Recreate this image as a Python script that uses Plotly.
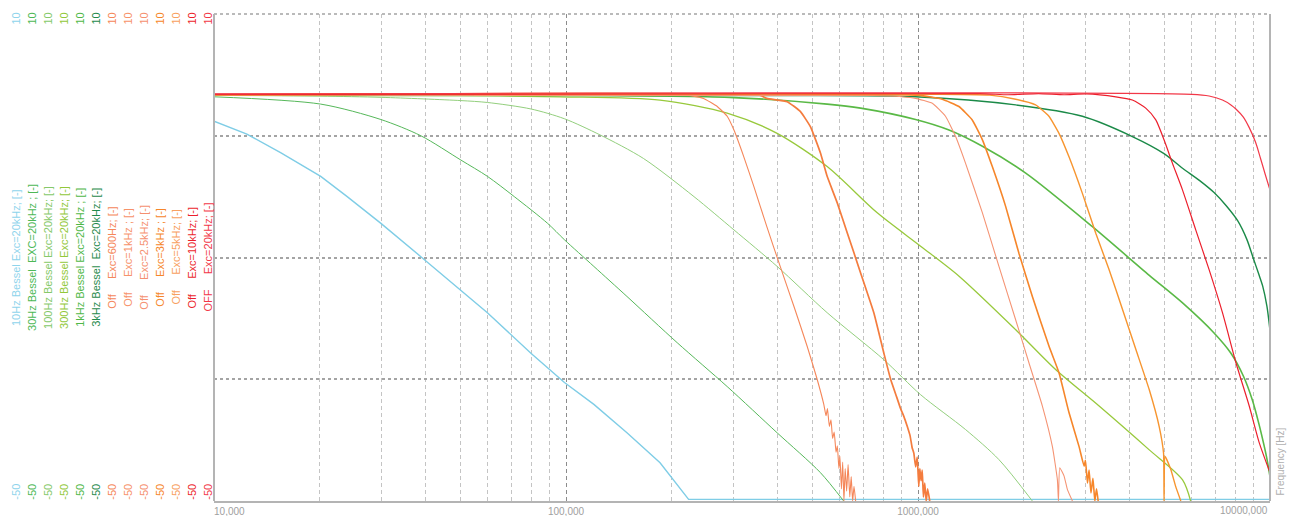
import plotly.graph_objects as go

# ---------------- data ----------------
f_10hz_bessel = [10, 12.4, 15.5, 20.1, 23.9, 29.8, 38.7, 50.3, 59.8, 79.5, 99, 120, 149, 185, 223, 10000]
db_10hz_bessel = [-3.2, -4.8, -7.1, -10.0, -12.5, -15.8, -19.9, -24.0, -26.8, -31.8, -35.4, -38.1, -41.6, -45.3, -49.8, -49.8]

f_30hz_bessel = [10, 20.1, 29.8, 38.7, 50.3, 59.8, 71.3, 88.7, 98.9, 120, 149, 207, 287, 398, 528, 615]
db_30hz_bessel = [-0.2, -1.1, -3.0, -5.0, -8.0, -10.0, -12.5, -15.8, -17.8, -21.1, -24.8, -30.5, -35.9, -41.6, -46.5, -50]

f_100hz_bessel = [10, 20, 30, 50.3, 59.8, 79.5, 98.9, 125, 166, 231, 300, 398, 552, 800, 1017, 1365, 1698, 2113]
db_100hz_bessel = [-0.03, -0.12, -0.27, -0.67, -0.9, -1.7, -2.9, -4.9, -7.8, -12.5, -16.6, -21.1, -26.8, -32.6, -36.9, -41.2, -44.9, -50]

f_300hz_bessel = [10, 50, 96.4, 185, 287, 398, 552, 766, 1017, 1308, 1895, 2460, 3270, 4540, 5644, 5950]
db_300hz_bessel = [0, -0.05, -0.2, -0.6, -2.2, -4.7, -8.8, -14.5, -18.6, -22.3, -28.9, -33.8, -38.3, -43.7, -47.4, -50]

f_1khz_bessel = [10, 100, 300, 552, 687, 984, 1225, 1524, 2023, 3130, 4540, 5644, 6935, 7745, 8400, 8900, 9300, 9600, 9800, 10000]
db_1khz_bessel = [0, -0.03, -0.3, -1.1, -1.6, -3.0, -4.3, -6.3, -9.6, -16.2, -22.2, -25.6, -29.3, -31.8, -34.6, -37.5, -40.5, -43.0, -44.8, -47.0]

f_3khz_bessel = [10, 398, 984, 1895, 2931, 4064, 5000, 5644, 6300, 6935, 7500, 8100, 8600, 8950, 9300, 9530, 9800, 10000]
db_3khz_bessel = [0, -0.05, -0.2, -1.2, -2.6, -5.1, -7.2, -9.0, -10.5, -12.0, -13.6, -15.5, -17.8, -20.0, -22.1, -23.5, -26.0, -29.0]

f_off_600 = [10, 221, 246, 269, 287, 300, 320, 342, 372, 406, 444, 484, 517, 540, 548, 553, 560, 566,
             572, 578, 585, 590, 596, 600, 606, 611, 616, 621, 627, 633, 640, 646, 652, 658, 665]
db_off_600 = [0.1, 0.0, -0.4, -1.4, -2.6, -4.3, -7.6, -11.3, -16.2, -21.1, -26.0, -30.9, -35.0, -38.1, -39.5, -38.6, -40.8, -40.0,
              -42.3, -41.5, -44.0, -43.2, -46.0, -44.5, -48.5, -45.2, -50, -46.0, -48.8, -45.5, -49.5, -47.0, -50, -48.2, -50]

f_off_1k = [10, 355, 372, 425, 463, 495, 528, 552, 590, 630, 687, 749, 800, 836, 870, 892, 912, 932,
            950, 962, 973, 985, 995, 1005, 1012, 1020, 1028, 1036, 1045, 1055, 1065, 1080]
db_off_1k = [0.05, 0.0, -0.4, -0.8, -2.0, -3.9, -7.1, -10.0, -13.3, -17.0, -21.9, -26.8, -31.8, -35.0, -37.2, -38.6, -39.6, -40.8,
             -42.0, -43.4, -44.1, -45.8, -44.6, -48.2, -46.0, -47.5, -46.2, -49.5, -47.8, -50, -48.5, -50]

f_off_2k5 = [10, 750, 900, 984, 1098, 1197, 1279, 1365, 1524, 1698, 1895, 2067, 2256, 2409, 2489, 2506, 2527, 2599, 2658, 2746]
db_off_2k5 = [0.0, -0.05, -0.2, -0.4, -1.0, -2.6, -5.1, -8.4, -14.5, -21.1, -27.7, -33.0, -38.3, -43.3, -47.4, -50, -45.9, -46.9, -48.6, -50]

f_off_3k = [10, 1000, 1172, 1307, 1426, 1524, 1626, 1774, 1936, 2113, 2355, 2515, 2685, 2868, 2963,
            2990, 3030, 3062, 3100, 3140, 3180, 3215, 3250]
db_off_3k = [0.05, 0.0, -0.5, -1.4, -3.05, -5.5, -8.8, -13.7, -19.5, -24.8, -30.9, -34.2, -39.1, -43.3, -45.7,
             -45.0, -47.8, -46.2, -49.0, -47.2, -50, -48.5, -50]

f_off_5k = [10, 1600, 1895, 2158, 2355, 2515, 2685, 2931, 3199, 3491, 3811, 4164, 4540, 4842, 4984, 5000, 5035, 5224, 5395, 5580]
db_off_5k = [0.05, 0.0, -0.5, -1.2, -2.6, -4.7, -7.6, -12.1, -17.0, -21.5, -26.4, -31.4, -36.3, -40.8, -44.1, -50, -44.5, -46.1, -48.2, -50]

f_off_10k = [10, 1500, 1800, 2200, 2600, 3000, 3648, 4064, 4436, 4738, 5000, 5284, 5644, 6152, 6714, 7328, 8007, 8730, 9318, 10000]
db_off_10k = [0.1, 0.2, 0.05, 0.2, 0.05, 0.15, -0.2, -0.6, -1.6, -3.05, -5.5, -8.4, -11.7, -16.6, -21.5, -26.8, -33.0, -38.3, -42.8, -46.5]

f_off_20k = [10, 6000, 6714, 7328, 7745, 8000, 8400, 8730, 9100, 9400, 9700, 10000]
db_off_20k = [0.15, 0.1, -0.1, -0.6, -1.2, -1.7, -2.7, -4.0, -5.8, -7.8, -9.8, -11.7]

axis_titles = [
    "10Hz Bessel Exc=20kHz; [-]",
    "30Hz Bessel  EXC=20kHz ; [-]",
    "100Hz Bessel Exc=20kHz; [-]",
    "300Hz Bessel Exc=20kHz; [-]",
    "1kHz Bessel Exc=20kHz ; [-]",
    "3kHz Bessel  Exc=20kHz; [-]",
    "Off     Exc=600Hz; [-]",
    "Off     Exc=1kHz ; [-]",
    "Off     Exc=2.5kHz; [-]",
    "Off     Exc=3kHz ; [-]",
    "Off     Exc=5kHz; [-]",
    "Off     Exc=10kHz; [-]",
    "OFF     Exc=20kHz; [-]",
]

x_tick_vals = [10, 100, 1000, 10000]
x_tick_text = ["10,000", "100,000", "1000,000", "10000,000"]
y_range = [-50, 10]
y_grid_vals = [-5, -20, -35]

# ---------------- styling ----------------
# (x, y, line colour, label colour, width, smoothing; 0 = straight segments)
series = [
    (f_10hz_bessel, db_10hz_bessel, "#7fcde6", "#8fd4ec", 1.4, 0),
    (f_30hz_bessel, db_30hz_bessel, "#56b85a", "#4db856", 1.0, 0.8),
    (f_100hz_bessel, db_100hz_bessel, "#93cf7d", "#86c96a", 1.0, 0.8),
    (f_300hz_bessel, db_300hz_bessel, "#98c93c", "#92c83a", 1.3, 0.8),
    (f_1khz_bessel, db_1khz_bessel, "#5ab946", "#4fb848", 1.6, 0.8),
    (f_3khz_bessel, db_3khz_bessel, "#1b8a48", "#1f8a4c", 1.4, 0.8),
    (f_off_600, db_off_600, "#f5875a", "#f5875a", 1.1, 0.4),
    (f_off_1k, db_off_1k, "#f47c3e", "#f7926a", 1.7, 0.4),
    (f_off_2k5, db_off_2k5, "#f59474", "#f59070", 1.1, 0.4),
    (f_off_3k, db_off_3k, "#f6862a", "#f6862a", 1.6, 0.4),
    (f_off_5k, db_off_5k, "#f7952f", "#f8a060", 1.4, 0.4),
    (f_off_10k, db_off_10k, "#ec1f2c", "#ec1f2c", 1.2, 0.6),
    (f_off_20k, db_off_20k, "#f23848", "#f23848", 1.2, 0.8),
]

FONT = "Liberation Sans, Arial, sans-serif"
W, H = 1291, 516
ML, MR, MT, MB = 0, 21, 14, 15
PW = W - ML - MR
PLOT_LEFT = 214
X0 = PLOT_LEFT / PW
BORDER = "#b4b4b4"
HGRID = "#a4a4a4"
XTICK_FONT = dict(size=10, color="#a0a0a0", family=FONT)

FS = "\u2007"   # figure space (digit width)
PS = "\u2008"   # punctuation space


def pad_left(s):
    n = sum(1 for c in s if c.isdigit())
    return FS * n + PS * (len(s) - n) + s


def pad_right(s):
    n = sum(1 for c in s if c.isdigit())
    return s + FS * n + PS * (len(s) - n)


# first label left-aligned at the axis start, last one right-aligned at the axis end
xt = list(x_tick_text)
xt[0] = pad_left(xt[0])
last_label = xt[-1]
xt[-1] = ""

minor_vals = [k * 10 ** d for d in range(1, 4) for k in range(2, 10)]

fig = go.Figure()
layout = dict(
    width=W, height=H,
    margin=dict(l=ML, r=MR, t=MT, b=MB, pad=0, autoexpand=False),
    paper_bgcolor="white", plot_bgcolor="rgba(0,0,0,0)",
    showlegend=False,
    font=dict(family=FONT, size=11, color="#999999"),
    xaxis=dict(
        type="log", range=[1, 4], domain=[X0, 1],
        tickvals=x_tick_vals, ticktext=xt, tickangle=0,
        tickfont=XTICK_FONT,
        ticks="", showgrid=True, gridcolor="#8c8c8c", griddash="4px,3px", gridwidth=1,
        showline=True, linecolor=BORDER, linewidth=2, zeroline=False,
        minor=dict(tickvals=minor_vals, showgrid=True, gridcolor="#c4c4c4",
                   griddash="4px,3px", gridwidth=1, ticks=""),
    ),
)

annotations = []
for i, (fx, dy, lc, tc, lw, sm) in enumerate(series):
    cx = 15.5 + 15.96 * i
    name = "yaxis" if i == 0 else "yaxis%d" % (i + 1)
    top_lbl = pad_right(str(y_range[1]))
    bot_lbl = pad_left(str(y_range[0]))
    ax = dict(
        anchor="free", position=(cx + 7) / PW, range=y_range,
        tickangle=-90, tickfont=dict(size=11, color=tc, family=FONT),
        zeroline=False, showline=False, ticks="", automargin=False,
    )
    if i == 0:
        ax.update(
            tickvals=[y_range[1]] + y_grid_vals + [y_range[0]],
            ticktext=[top_lbl] + [""] * len(y_grid_vals) + [bot_lbl],
            showgrid=True, gridcolor=HGRID, griddash="3px,3px", gridwidth=1.5,
        )
    else:
        ax.update(
            overlaying="y", tickvals=[y_range[1], y_range[0]],
            ticktext=[top_lbl, bot_lbl], showgrid=False,
        )
    layout[name] = ax
    annotations.append(dict(
        text=axis_titles[i].replace(" ", "\u00a0"), textangle=-90,
        xref="paper", yref="paper", x=cx / PW, y=0.5,
        xanchor="center", yanchor="middle", showarrow=False,
        font=dict(size=11, color=tc, family=FONT),
    ))
    line = dict(color=lc, width=lw)
    if sm > 0:
        line.update(shape="spline", smoothing=sm)
    fig.add_trace(go.Scatter(
        x=fx, y=dy, mode="lines", xaxis="x",
        yaxis="y" if i == 0 else "y%d" % (i + 1),
        line=line, hoverinfo="skip",
    ))

annotations.append(dict(
    text=last_label, xref="paper", yref="paper", x=1.0, y=0.0,
    xanchor="right", yanchor="top", yshift=-2, showarrow=False, font=XTICK_FONT,
))
annotations.append(dict(
    text="Frequency [Hz]", textangle=-90, xref="paper", yref="paper",
    x=1.0, y=0.0, xanchor="left", yanchor="bottom", xshift=2, yshift=3,
    showarrow=False, font=dict(size=10, color="#b0b0b0", family=FONT),
))
layout["annotations"] = annotations
layout["shapes"] = [
    dict(type="line", xref="paper", yref="paper", x0=X0, x1=1, y0=1, y1=1,
         line=dict(color=HGRID, width=1.5, dash="3px,3px"), layer="below"),
    dict(type="line", xref="paper", yref="paper", x0=X0, x1=X0, y0=0, y1=1,
         line=dict(color=BORDER, width=2), layer="above"),
    dict(type="line", xref="paper", yref="paper", x0=1, x1=1, y0=0, y1=1,
         line=dict(color=BORDER, width=2), layer="above"),
]
fig.update_layout(**layout)
fig.write_html(
    "out.html",
    config={"displayModeBar": False},
    post_script="document.body.style.margin='0px';",
)
